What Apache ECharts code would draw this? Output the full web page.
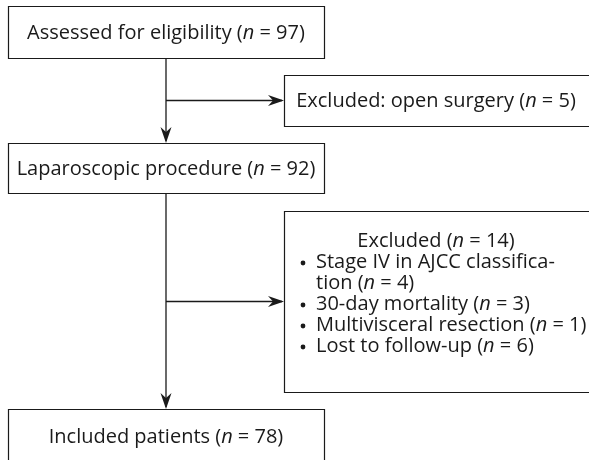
<!DOCTYPE html>
<html><head><meta charset="utf-8">
<script src="https://cdn.jsdelivr.net/npm/echarts@6/dist/echarts.min.js"></script>
<style>html,body{margin:0;padding:0;background:#fff}#c{width:589px;height:460px}</style>
</head><body><div id="c"></div>
<script>
// Flow data
const stageLabels = ['Assessed for eligibility', 'Laparoscopic procedure', 'Included patients'];
const stageCounts = [97, 92, 78];
const exclusionLabels = ['Excluded: open surgery', 'Excluded'];
const exclusionCounts = [5, 14];
const reasonLabels = [['Stage IV in AJCC classifica-', 'tion'], ['30-day mortality'], ['Multivisceral resection'], ['Lost to follow-up']];
const reasonCounts = [4, 3, 1, 6];

const FONT = '"Open Sans", "Noto Sans", sans-serif';
const FS = 20;
const FW = 400;
const INK = '#1a1a1a';
const rich = {
  i: { fontStyle: 'italic', fontWeight: FW, fontSize: FS, fontFamily: FONT, fill: INK },
  t: { fontWeight: FW, fontSize: FS, fontFamily: FONT, fill: INK }
};
function nText(label, n) { return '{t|' + label + ' (}{i|n}{t| = ' + n + ')}'; }

const g = [];
function box(x1, y1, x2, y2) {
  g.push({ type: 'rect', shape: { x: x1 + 0.5, y: y1 + 0.5, width: x2 - x1, height: y2 - y1 },
    style: { fill: '#fff', stroke: INK, lineWidth: 1.2 } });
}
function txt(x, y, s, align) {
  g.push({ type: 'text', x: x, y: y, style: { text: s, rich: rich, fontSize: FS, fontWeight: FW, fontFamily: FONT, fill: INK,
    align: align || 'center', verticalAlign: 'middle' } });
}
function line(x1, y1, x2, y2) {
  g.push({ type: 'line', shape: { x1: x1, y1: y1, x2: x2, y2: y2 }, style: { stroke: INK, lineWidth: 1.3 } });
}
function arrowDown(x, y) {
  g.push({ type: 'polygon', shape: { points: [[x, y], [x - 5.5, y - 16], [x, y - 11], [x + 5.5, y - 16]] }, style: { fill: INK } });
}
function arrowRight(x, y) {
  g.push({ type: 'polygon', shape: { points: [[x, y], [x - 16, y - 5.5], [x - 11, y], [x - 16, y + 5.5]] }, style: { fill: INK } });
}

const LX1 = 8, LX2 = 324, CX = 166;
const RX1 = 284, RX2 = 592;
const stageY = [[6, 58], [143, 193], [409, 470]];
const exclY = [[75, 126], [211, 392]];
const branchY = [100.5, 301.5];

// connectors
line(CX, stageY[0][1], CX, stageY[1][0] - 2); arrowDown(CX, stageY[1][0]);
line(CX, stageY[1][1], CX, stageY[2][0] - 2); arrowDown(CX, stageY[2][0]);
line(CX, branchY[0], RX1 - 2, branchY[0]); arrowRight(RX1, branchY[0]);
line(CX, branchY[1], RX1 - 2, branchY[1]); arrowRight(RX1, branchY[1]);

// stage boxes
stageLabels.forEach(function (lab, k) {
  box(LX1, stageY[k][0], LX2, stageY[k][1]);
  const ty = k === 2 ? 437 : (stageY[k][0] + stageY[k][1]) / 2 + 1;
  txt(CX, ty, nText(lab, stageCounts[k]));
});

// exclusion boxes
box(RX1, exclY[0][0], RX2, exclY[0][1]);
txt(436, (exclY[0][0] + exclY[0][1]) / 2 + 1, nText(exclusionLabels[0], exclusionCounts[0]));
box(RX1, exclY[1][0], RX2, exclY[1][1]);
txt(436, 241, nText(exclusionLabels[1], exclusionCounts[1]));
let yy = 262;
const LH = 21;
reasonLabels.forEach(function (parts, k) {
  g.push({ type: 'circle', shape: { cx: 303, cy: yy + 1, r: 2.4 }, style: { fill: INK } });
  parts.forEach(function (p, j) {
    const last = j === parts.length - 1;
    txt(316, yy, last ? nText(p, reasonCounts[k]) : '{t|' + p + '}', 'left');
    yy += LH;
  });
});

const chart = echarts.init(document.getElementById('c'), null, { renderer: 'canvas' });
chart.setOption({ backgroundColor: '#fff', animation: false, graphic: { elements: g } });
</script></body></html>
